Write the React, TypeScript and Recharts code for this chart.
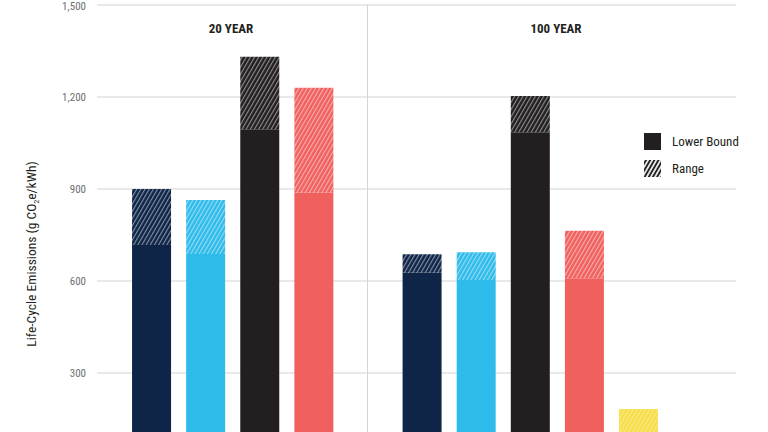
import React from 'react';
import { BarChart, Bar, Cell, XAxis, YAxis, CartesianGrid, ReferenceLine, Legend, Customized } from 'recharts';

const FONT = "'Liberation Sans Narrow', 'Roboto Condensed', Roboto, sans-serif";

// slot positions on the x axis (20 year: 1-4, divider at 5, 100 year: 6-10)
const slots = [1, 2, 3, 4, 6, 7, 8, 9, 10];
const techs = ['navy', 'cyan', 'black', 'red', 'navy', 'cyan', 'black', 'red', 'yellow'];
const lowerBound = [717, 688, 1095, 888, 627, 603, 1085, 609, 90];
const upperBound = [900, 864, 1331, 1230, 687, 694, 1203, 764, 183];
const yTicks = [300, 600, 900, 1200, 1500];
const panelTitles = ['20 YEAR', '100 YEAR'];

const COLORS: Record<string, string> = {
  navy: '#0e2548',
  cyan: '#2fbbea',
  black: '#231f20',
  red: '#f0605e',
  yellow: '#f6df4a',
};

const chartData = slots.map((x, i) => ({
  x,
  tech: techs[i],
  lower: lowerBound[i],
  range: upperBound[i] - lowerBound[i],
}));

const fmt = (v: number) => v.toLocaleString('en-US');

function YLabel() {
  return (
    <text
      x={36}
      y={254}
      transform="rotate(-90 36 254)"
      textAnchor="middle"
      fontFamily={FONT}
      fontSize={13.5}
      fill="#231f20"
    >
      Life-Cycle Emissions (g CO
      <tspan fontSize={8} dy={3}>2</tspan>
      <tspan dy={-3}>e/kWh)</tspan>
    </text>
  );
}

function PanelTitles() {
  const xs = [231, 556];
  return (
    <g>
      {panelTitles.map((t, i) => (
        <text
          key={t}
          x={xs[i]}
          y={33}
          textAnchor="middle"
          fontFamily={FONT}
          fontWeight="bold"
          fontSize={13}
          fill="#231f20"
        >
          {t}
        </text>
      ))}
    </g>
  );
}

function LegendBox() {
  return (
    <div style={{ fontFamily: FONT, fontSize: 13, color: '#231f20' }}>
      <div style={{ display: 'flex', alignItems: 'center', height: 18, marginBottom: 9 }}>
        <div style={{ width: 17, height: 17, background: COLORS.black, marginRight: 11 }} />
        <span>Lower Bound</span>
      </div>
      <div style={{ display: 'flex', alignItems: 'center', height: 18 }}>
        <svg width={17} height={17} style={{ marginRight: 11 }}>
          <rect width={17} height={17} fill="url(#hatch-legend)" />
        </svg>
        <span>Range</span>
      </div>
    </div>
  );
}

function Hatch({ id, color, line }: { id: string; color: string; line: string }) {
  return (
    <pattern id={id} patternUnits="userSpaceOnUse" width={3.6} height={3.6} patternTransform="rotate(30)">
      <rect width={3.6} height={3.6} fill={color} />
      <line x1={0.6} y1={0} x2={0.6} y2={3.6} stroke={line} strokeWidth={1} />
    </pattern>
  );
}

export default function App() {
  return (
    <div style={{ position: 'absolute', left: 0, top: 0, width: 768, height: 432, overflow: 'hidden', background: '#fff' }}>
      <BarChart
        width={768}
        height={480}
        data={chartData}
        margin={{ top: 5, right: 32, bottom: 15, left: 0 }}
        barSize={39}
      >
        <defs>
          {Object.keys(COLORS).map((k) => (
            <Hatch
              key={k}
              id={`hatch-${k}`}
              color={COLORS[k]}
              line={k === 'yellow' ? 'rgba(255,255,255,0.35)' : 'rgba(255,255,255,0.55)'}
            />
          ))}
          <pattern id="hatch-legend" patternUnits="userSpaceOnUse" width={3.6} height={3.6} patternTransform="rotate(30)">
            <rect width={3.6} height={3.6} fill="#fff" />
            <line x1={1.8} y1={0} x2={1.8} y2={3.6} stroke={COLORS.black} strokeWidth={2} />
          </pattern>
        </defs>
        <CartesianGrid vertical={false} stroke="#d3d3d3" strokeWidth={1} />
        <XAxis type="number" dataKey="x" domain={[0, 11.81]} hide />
        <YAxis
          type="number"
          domain={[0, 1500]}
          ticks={yTicks}
          width={97}
          axisLine={false}
          tickLine={false}
          tickSize={0}
          tickMargin={11}
          tickFormatter={fmt}
          tick={{ fontFamily: FONT, fontSize: 11, fill: '#6d6e71' }}
        />
        <ReferenceLine x={5} stroke="#d3d3d3" strokeWidth={1} />
        <Bar dataKey="lower" stackId="a" isAnimationActive={false}>
          {chartData.map((d, i) => (
            <Cell key={`lower-${i}`} fill={COLORS[d.tech]} />
          ))}
        </Bar>
        <Bar dataKey="range" stackId="a" isAnimationActive={false}>
          {chartData.map((d, i) => (
            <Cell key={`range-${i}`} fill={`url(#hatch-${d.tech})`} />
          ))}
        </Bar>
        <Legend
          layout="vertical"
          align="center"
          verticalAlign="middle"
          wrapperStyle={{ position: 'absolute', top: 132, left: 644, width: 120 }}
          content={() => <LegendBox />}
        />
        <Customized component={YLabel} />
        <Customized component={PanelTitles} />
      </BarChart>
    </div>
  );
}
